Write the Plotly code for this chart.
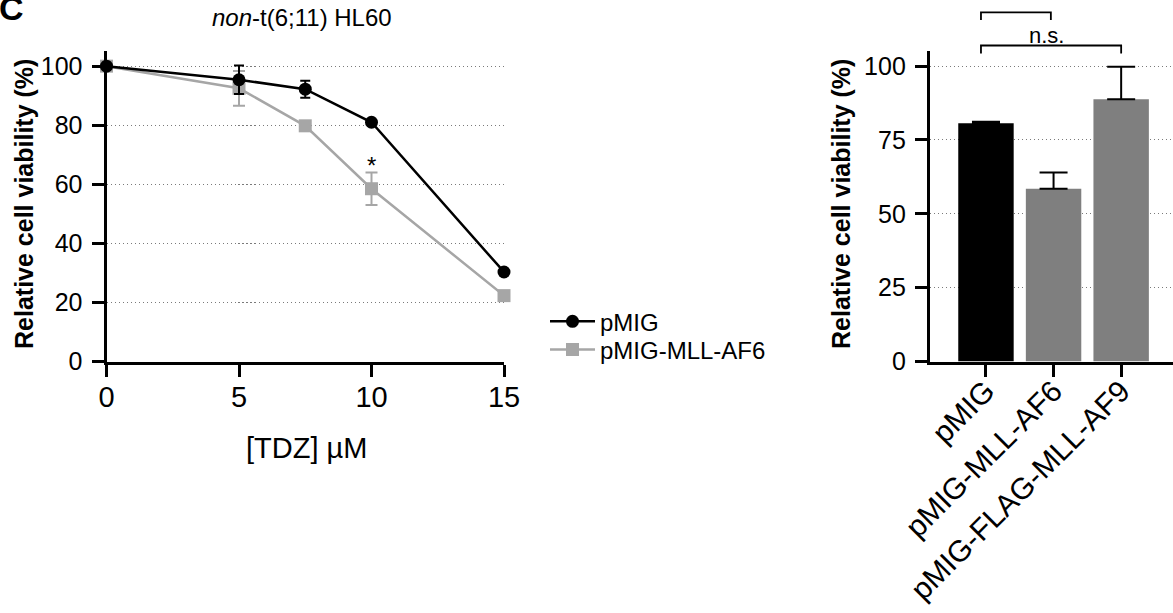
import plotly.graph_objects as go

# ---- data ----
dose_um = [0, 5, 7.5, 10, 15]
pmig_viab = [100, 95.4, 92.2, 81.0, 30.3]
pmig_err = [0, 4.8, 2.9, 0.5, 0]
af6_viab = [100, 92.5, 79.8, 58.5, 22.3]
af6_err = [0, 5.9, 0, 5.5, 0]

bar_labels = ["pMIG", "pMIG-MLL-AF6", "pMIG-FLAG-MLL-AF9"]
bar_viab = [80.7, 58.5, 88.8]
bar_err = [0.5, 5.5, 11.0]
bar_colors = ["#000000", "#7f7f7f", "#7f7f7f"]

W, H = 1173, 613
FONT = "Arial, Liberation Sans, Helvetica, sans-serif"
GREY = "#a6a6a6"
GRID_DASH = "1.5px,2.5px"


def px(xp):
    return xp / W


def py(yp):
    return 1 - yp / H


Y_DOM = [py(361.5), py(50.5)]
Y_MAX = 105.3


def y_paper(v):
    """data value on either y axis -> paper coordinate"""
    return Y_DOM[0] + v / Y_MAX * (Y_DOM[1] - Y_DOM[0])


fig = go.Figure()

fig.add_trace(go.Scatter(
    x=dose_um, y=af6_viab, name="pMIG-MLL-AF6", mode="lines+markers",
    line=dict(color=GREY, width=2.5),
    marker=dict(symbol="square", size=13, color=GREY),
    error_y=dict(type="data", array=af6_err, color=GREY, thickness=2, width=6),
    cliponaxis=False, legend="legend2", xaxis="x", yaxis="y",
))
fig.add_trace(go.Scatter(
    x=dose_um, y=pmig_viab, name="pMIG", mode="lines+markers",
    line=dict(color="black", width=2.5),
    marker=dict(symbol="circle", size=13, color="black"),
    error_y=dict(type="data", array=pmig_err, color="black", thickness=2, width=5),
    cliponaxis=False, legend="legend", xaxis="x", yaxis="y",
))
fig.add_trace(go.Bar(
    x=bar_labels, y=bar_viab, width=0.82,
    marker=dict(color=bar_colors, line=dict(width=0)),
    error_y=dict(type="data", array=bar_err, arrayminus=[0] * len(bar_err),
                 symmetric=False, color="black", thickness=2, width=14),
    showlegend=False, xaxis="x2", yaxis="y2",
))

axis_common = dict(
    showline=True, linecolor="black", linewidth=3,
    ticks="outside", ticklen=12, tickwidth=3, tickcolor="black",
    zeroline=False, automargin=False,
)
grid = dict(showgrid=True, gridcolor="#7a7a7a", gridwidth=1, griddash=GRID_DASH)
legend_common = dict(xanchor="left", yanchor="middle", font=dict(size=24),
                     bgcolor="rgba(0,0,0,0)", itemwidth=45)

fig.update_layout(
    width=W, height=H,
    margin=dict(l=0, r=0, t=0, b=0, autoexpand=False),
    paper_bgcolor="white", plot_bgcolor="white",
    font=dict(family=FONT, color="black"),
    xaxis=dict(domain=[px(106.5), px(504)], range=[0, 15], tickvals=[0, 5, 10, 15],
               showgrid=False, tickfont=dict(size=29), ticklabelstandoff=-4,
               anchor="y", **axis_common),
    yaxis=dict(domain=Y_DOM, range=[0, Y_MAX], tickvals=[0, 20, 40, 60, 80, 100],
               tickfont=dict(size=25), ticklabelstandoff=4, anchor="x",
               **grid, **axis_common),
    xaxis2=dict(domain=[px(929.8), 1], range=[-0.831, 2.767], type="category",
                showgrid=False, tickangle=-45, tickfont=dict(size=30),
                ticklabelstandoff=-15, anchor="y2", **axis_common),
    yaxis2=dict(domain=Y_DOM, range=[0, Y_MAX], tickvals=[0, 25, 50, 75, 100],
                tickfont=dict(size=25), ticklabelstandoff=4, anchor="x2",
                **grid, **axis_common),
    legend=dict(x=px(545), y=py(321.7), **legend_common),
    legend2=dict(x=px(545), y=py(350), **legend_common),
    showlegend=True,
)

annotations = [
    # panel title
    dict(text="<i>non</i>-t(6;11) HL60", x=px(302), y=py(18), xref="paper", yref="paper",
         showarrow=False, font=dict(size=24), xanchor="center", yanchor="middle"),
    # axis titles
    dict(text="<b>Relative cell viability (%)</b>", x=px(24), y=py(204), xref="paper",
         yref="paper", showarrow=False, textangle=-90, font=dict(size=25),
         xanchor="center", yanchor="middle"),
    dict(text="[TDZ] µM", x=px(306), y=py(448), xref="paper", yref="paper",
         showarrow=False, font=dict(size=29), xanchor="center", yanchor="middle"),
    dict(text="<b>Relative cell viability (%)</b>", x=px(841), y=py(204), xref="paper",
         yref="paper", showarrow=False, textangle=-90, font=dict(size=25),
         xanchor="center", yanchor="middle"),
    # significance marks
    dict(text="*", x=10, y=66.5, xref="x", yref="y", showarrow=False,
         font=dict(size=24), xanchor="center", yanchor="middle"),
    dict(text="n.s.", x=0.9, y=y_paper(110.3), xref="x2", yref="paper",
         showarrow=False, font=dict(size=22), xanchor="center", yanchor="middle"),
    # panel letter
    dict(text="<b>C</b>", x=px(-3), y=py(29), xref="paper", yref="paper",
         showarrow=False, font=dict(size=34), xanchor="left", yanchor="bottom"),
]
fig.update_layout(annotations=annotations)


def bracket(x0, x1, top, leg):
    return dict(
        type="path", xref="x2", yref="paper",
        path=(f"M {x0},{y_paper(leg)} L {x0},{y_paper(top)} "
              f"L {x1},{y_paper(top)} L {x1},{y_paper(leg)}"),
        line=dict(color="black", width=1.8),
    )


fig.update_layout(shapes=[
    bracket(-0.074, 0.96, 118.2, 115.6),
    bracket(-0.074, 2.0, 107.0, 104.3),
])

fig.write_html("out.html")
